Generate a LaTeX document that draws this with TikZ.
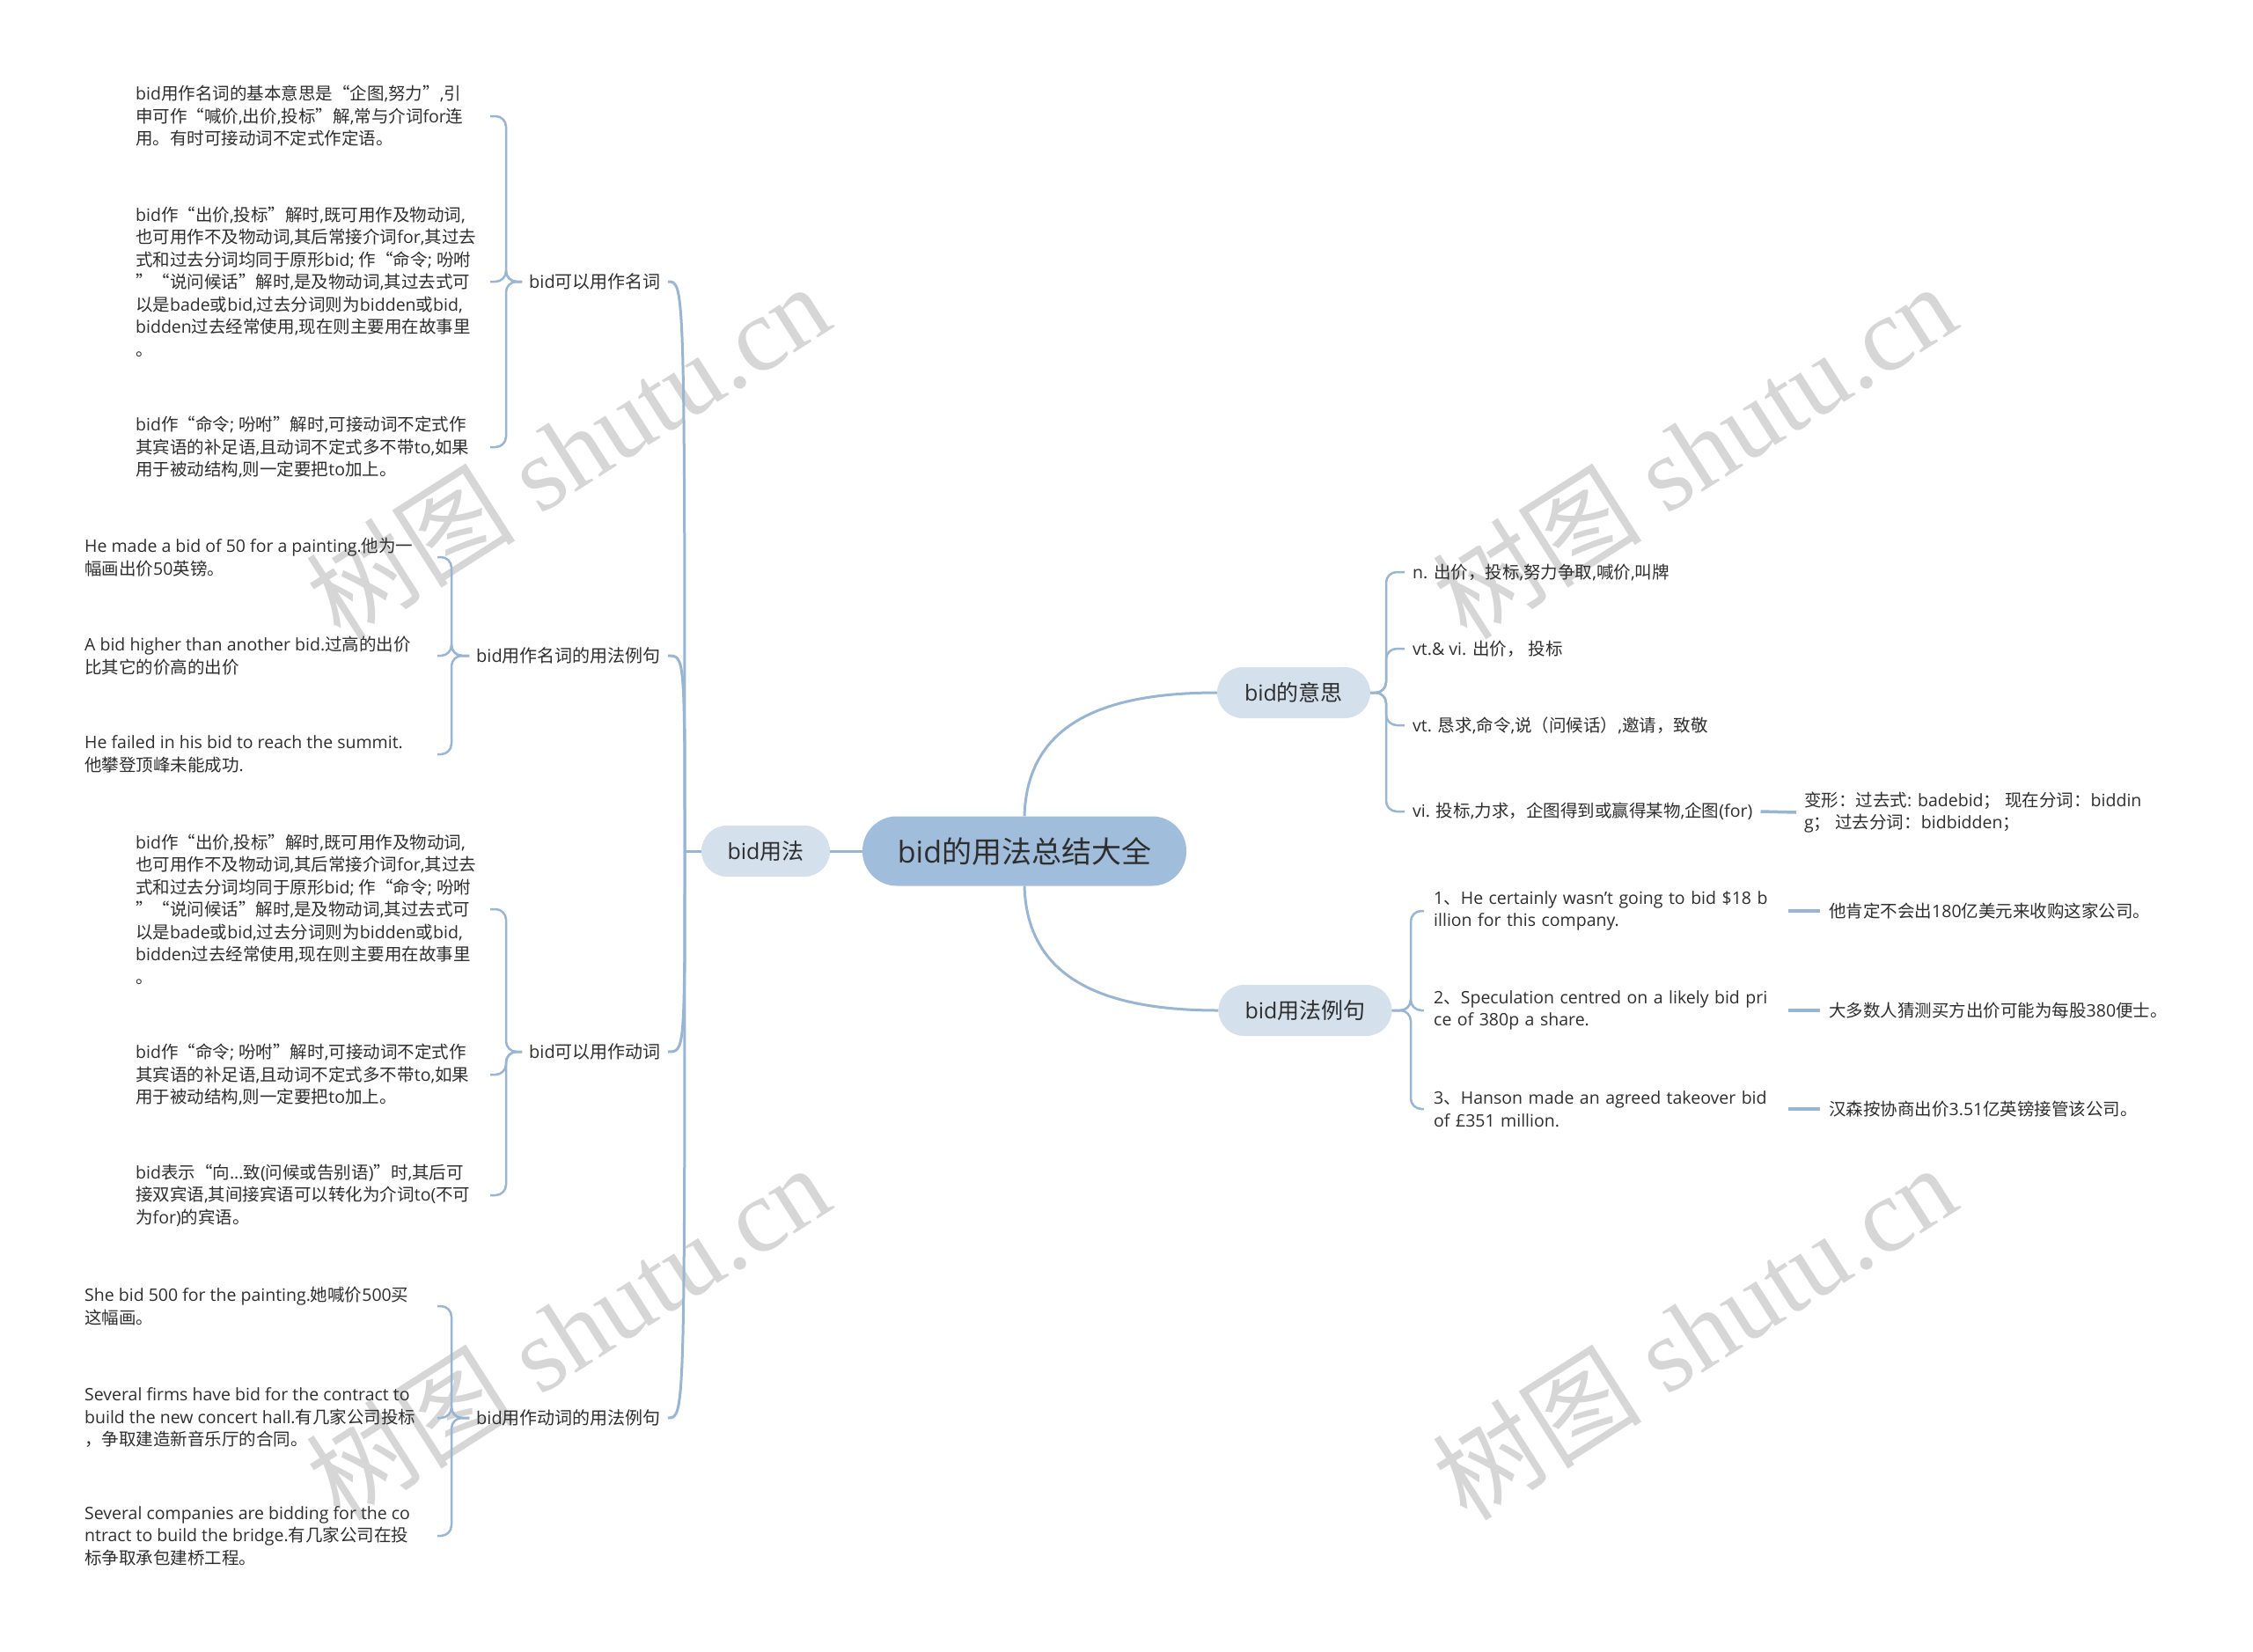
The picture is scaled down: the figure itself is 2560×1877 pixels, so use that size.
\documentclass[tikz,border=0pt]{standalone}
\usepackage{fontspec}
\setmainfont{Open Sans}
\newfontfamily\cjkfont{Noto Sans CJK SC}
\newfontfamily\wmfont{Liberation Serif}
\XeTeXinterchartokenstate=1
\newXeTeXintercharclass\CJKcls
\newcount\cjkc
\def\setcjkrange#1#2{\cjkc=#1\relax\loop\XeTeXcharclass\cjkc=\CJKcls\relax\ifnum\cjkc<#2\relax\advance\cjkc by 1\relax\repeat}
\setcjkrange{"4E00}{"9FFF}
\setcjkrange{"3000}{"303F}
\setcjkrange{"FF00}{"FFEF}
\XeTeXcharclass"201C=\CJKcls
\XeTeXcharclass"201D=\CJKcls
\XeTeXinterchartoks 0 \CJKcls = {\begingroup\cjkfont}
\XeTeXinterchartoks 4095 \CJKcls = {\begingroup\cjkfont}
\XeTeXinterchartoks \CJKcls 0 = {\endgroup}
\XeTeXinterchartoks \CJKcls 4095 = {\endgroup}
\definecolor{lc}{HTML}{98B5D3}
\definecolor{rootfill}{HTML}{A0BEDB}
\definecolor{lonefill}{HTML}{D4E0EB}
\definecolor{txt}{HTML}{2E2E2E}
\definecolor{wm}{HTML}{D6D6D6}
\begin{document}
\begin{tikzpicture}[x=1pt,y=-1pt,
  rootbox/.style={fill=rootfill, rounded corners=39pt, minimum width=368pt, minimum height=79pt, inner sep=0pt, text=txt, font=\fontsize{34}{40}\selectfont},
  lonebox/.style={fill=lonefill, rounded corners=29pt, minimum height=58pt, inner sep=0pt, text=txt, font=\fontsize{25}{30}\selectfont},
  lab/.style={anchor=east, inner xsep=8pt, inner ysep=0pt, text=txt, font=\fontsize{20}{24}\selectfont},
  leaf/.style={anchor=west, inner sep=0pt, align=left, text=txt, font=\fontsize{19.5}{25.5}\selectfont},
  rleaf/.style={anchor=west, inner xsep=9pt, inner ysep=0pt, align=left, text=txt, font=\fontsize{19.5}{25.5}\selectfont},
  conn/.style={draw=lc, line width=3pt},
  br/.style={draw=lc, line width=2.5pt, rounded corners=12pt},
  shortln/.style={draw=lc, line width=3.5pt},
  wmark/.style={text=wm, rotate=32.5, inner sep=0pt, font=\wmfont\fontsize{119}{119}\selectfont}
]
\fill[white] (0,0) rectangle (2560,1877);
\useasboundingbox (0,0) rectangle (2560,1877);

% watermarks
\node[wmark] (wm1) at (645,512) {树图 shutu.cn};
\node[wmark] (wm2) at (1925,512) {树图 shutu.cn};
\node[wmark] (wm3) at (645,1513) {树图 shutu.cn};
\node[wmark] (wm4) at (1925,1513) {树图 shutu.cn};

% main nodes
\node[rootbox] (root) at (1164,967) {bid的用法总结大全};
\node[lonebox, minimum width=146pt] (yf) at (870,967) {bid用法};
\node[lonebox, minimum width=174pt] (ys) at (1470,787) {bid的意思};
\node[lonebox, minimum width=197pt] (lj) at (1483,1148) {bid用法例句};

\draw[conn] (root.west) -- (yf.east);
\draw[conn] (root.north) .. controls (1167,824) and (1250,787) .. (ys.west);
\draw[conn] (root.south) .. controls (1167,1110) and (1250,1148) .. (lj.west);

% left trunk
\coordinate (tk) at (778,967);
\node[lab] (nA) at (759,320) {bid可以用作名词};
\node[lab] (nB) at (759,745) {bid用作名词的用法例句};
\node[lab] (nC) at (759,1195) {bid可以用作动词};
\node[lab] (nD) at (759,1611) {bid用作动词的用法例句};
\draw[conn] (yf.west) -- (tk);
\foreach \n in {nA,nB,nC,nD}{
  \draw[conn] (tk) .. controls (tk |- \n.east) .. (\n.east);
}

% bracket x positions and leaf right ends
\coordinate (bA) at (575,0);
\coordinate (rA) at (557,0);
\coordinate (bB) at (513,0);
\coordinate (rB) at (497,0);

% group A
\node[leaf] (A1) at (154,132) {bid用作名词的基本意思是“企图,努力”,引\\申可作“喊价,出价,投标”解,常与介词for连\\用。有时可接动词不定式作定语。};
\node[leaf] (A2) at (154,320) {bid作“出价,投标”解时,既可用作及物动词,\\也可用作不及物动词,其后常接介词for,其过去\\式和过去分词均同于原形bid; 作“命令; 吩咐\\”“说问候话”解时,是及物动词,其过去式可\\以是bade或bid,过去分词则为bidden或bid,\\bidden过去经常使用,现在则主要用在故事里\\。};
\node[leaf] (A3) at (154,508) {bid作“命令; 吩咐”解时,可接动词不定式作\\其宾语的补足语,且动词不定式多不带to,如果\\用于被动结构,则一定要把to加上。};
\foreach \l in {A1,A2,A3}{
  \draw[br] (nA.west) -- (nA.west -| bA) |- (\l.west -| rA);
}

% group B
\node[leaf] (B1) at (96,633) {He made a bid of 50 for a painting.他为一\\幅画出价50英镑。};
\node[leaf] (B2) at (96,745) {A bid higher than another bid.过高的出价\\比其它的价高的出价};
\node[leaf] (B3) at (96,857) {He failed in his bid to reach the summit.\\他攀登顶峰未能成功.};
\foreach \l in {B1,B2,B3}{
  \draw[br] (nB.west) -- (nB.west -| bB) |- (\l.west -| rB);
}

% group C
\node[leaf] (C1) at (154,1033) {bid作“出价,投标”解时,既可用作及物动词,\\也可用作不及物动词,其后常接介词for,其过去\\式和过去分词均同于原形bid; 作“命令; 吩咐\\”“说问候话”解时,是及物动词,其过去式可\\以是bade或bid,过去分词则为bidden或bid,\\bidden过去经常使用,现在则主要用在故事里\\。};
\node[leaf] (C2) at (154,1221) {bid作“命令; 吩咐”解时,可接动词不定式作\\其宾语的补足语,且动词不定式多不带to,如果\\用于被动结构,则一定要把to加上。};
\node[leaf] (C3) at (154,1358) {bid表示“向...致(问候或告别语)”时,其后可\\接双宾语,其间接宾语可以转化为介词to(不可\\为for)的宾语。};
\foreach \l in {C1,C2,C3}{
  \draw[br] (nC.west) -- (nC.west -| bA) |- (\l.west -| rA);
}

% group D
\node[leaf] (D1) at (96,1484) {She bid 500 for the painting.她喊价500买\\这幅画。};
\node[leaf] (D2) at (96,1611) {Several firms have bid for the contract to\\build the new concert hall.有几家公司投标\\，争取建造新音乐厅的合同。};
\node[leaf] (D3) at (96,1745) {Several companies are bidding for the co\\ntract to build the bridge.有几家公司在投\\标争取承包建桥工程。};
\foreach \l in {D1,D2,D3}{
  \draw[br] (nD.west) -- (nD.west -| bB) |- (\l.west -| rB);
}

% right group: bid的意思
\coordinate (bY) at (1575,0);
\node[rleaf] (Y1) at (1596,650) {n. 出价，投标,努力争取,喊价,叫牌};
\node[rleaf] (Y2) at (1596,737) {vt.\& vi. 出价， 投标};
\node[rleaf] (Y3) at (1596,824) {vt. 恳求,命令,说（问候话）,邀请，致敬};
\node[rleaf] (Y4) at (1596,922) {vi. 投标,力求，企图得到或赢得某物,企图(for)};
\foreach \l in {Y1,Y2,Y3,Y4}{
  \draw[br] (ys.east) -- (ys.east -| bY) |- (\l.west);
}
\node[rleaf] (BX) at (2041,923) {变形：过去式: badebid； 现在分词：biddin\\g； 过去分词：bidbidden；};
\draw[shortln] (Y4.east) -- (BX.west);

% right group: bid用法例句
\coordinate (bL) at (1603,0);
\node[rleaf, inner xsep=11pt, text width=392pt] (E1) at (1618,1035) {1、He certainly wasn't going to bid \$18 b\\illion for this company.};
\node[rleaf, inner xsep=11pt, text width=392pt] (E2) at (1618,1148) {2、Speculation centred on a likely bid pri\\ce of 380p a share.};
\node[rleaf, inner xsep=11pt, text width=392pt] (E3) at (1618,1260) {3、Hanson made an agreed takeover bid\\of £351 million.};
\foreach \l in {E1,E2,E3}{
  \draw[br] (lj.east) -- (lj.east -| bL) |- (\l.west);
}
\node[rleaf, inner xsep=10pt] (T1) at (2068,1035) {他肯定不会出180亿美元来收购这家公司。};
\node[rleaf, inner xsep=10pt] (T2) at (2068,1148) {大多数人猜测买方出价可能为每股380便士。};
\node[rleaf, inner xsep=10pt] (T3) at (2068,1260) {汉森按协商出价3.51亿英镑接管该公司。};
\draw[shortln] (E1.east) -- (T1.west);
\draw[shortln] (E2.east) -- (T2.west);
\draw[shortln] (E3.east) -- (T3.west);
\end{tikzpicture}
\end{document}
